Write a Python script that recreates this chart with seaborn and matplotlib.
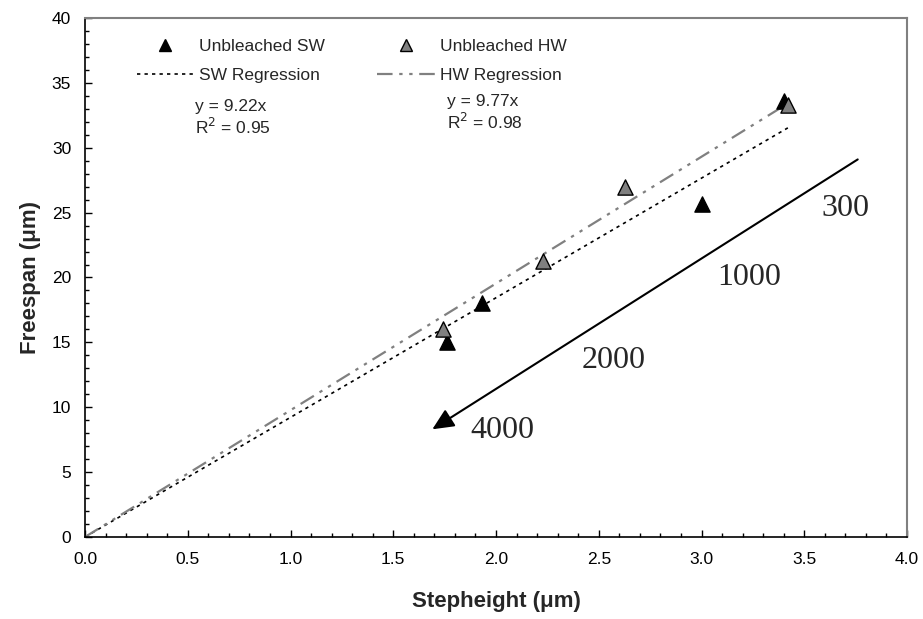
import numpy as np
import pandas as pd
import seaborn as sns
import matplotlib.pyplot as plt
from matplotlib.lines import Line2D
from matplotlib.ticker import MultipleLocator

# data
sw_x = [1.76, 1.93, 3.00, 3.40]
sw_y = [15.0, 18.0, 25.7, 33.6]
hw_x = [1.74, 2.23, 2.63, 3.42]
hw_y = [16.0, 21.3, 27.0, 33.3]
sw_slope = 9.22
hw_slope = 9.77
fit_x = [0.0, 3.42]
arrow_start = (3.76, 29.1)
arrow_end = (1.69, 8.3)
speed_labels = ["300", "1000", "2000", "4000"]
speed_pos = [(3.70, 25.3), (3.23, 20.0), (2.57, 13.6), (2.03, 8.2)]

df_pts = pd.DataFrame({
    "x": sw_x + hw_x,
    "y": sw_y + hw_y,
    "series": ["Unbleached SW"] * len(sw_x) + ["Unbleached HW"] * len(hw_x),
})
df_fit = pd.DataFrame({
    "x": fit_x + fit_x,
    "y": [sw_slope * v for v in fit_x] + [hw_slope * v for v in fit_x],
    "series": ["SW Regression"] * 2 + ["HW Regression"] * 2,
})

sns.set_style("white")
plt.rcParams["font.family"] = ["Liberation Sans", "DejaVu Sans"]

sw_ls = (0, (2, 2.5))
hw_ls = (0, (7, 3, 1.5, 3, 1.5, 3))

fig = plt.figure(figsize=(9.23, 6.19), dpi=100)
ax = fig.add_axes([0.0921, 0.1325, 0.8906, 0.8384])

# regression lines
sns.lineplot(data=df_fit[df_fit.series == "SW Regression"], x="x", y="y", ax=ax,
             color="black", lw=1.2, linestyle=sw_ls, legend=False)
sns.lineplot(data=df_fit[df_fit.series == "HW Regression"], x="x", y="y", ax=ax,
             color="#808080", lw=1.6, linestyle=hw_ls, legend=False)

# points
sns.scatterplot(data=df_pts[df_pts.series == "Unbleached SW"], x="x", y="y", ax=ax,
                marker="^", s=120, color="black", edgecolor="black", linewidth=1, zorder=3, legend=False)
sns.scatterplot(data=df_pts[df_pts.series == "Unbleached HW"], x="x", y="y", ax=ax,
                marker="^", s=120, color="#808080", edgecolor="black", linewidth=1, zorder=4, legend=False)

# arrow
ax.annotate("", xy=arrow_end, xytext=arrow_start,
            arrowprops=dict(arrowstyle="-|>,head_length=1.3,head_width=0.6", color="black",
                            lw=1.5, shrinkA=0, shrinkB=0))
for lab, (px, py) in zip(speed_labels, speed_pos):
    ax.text(px, py, lab, fontsize=23, family="Liberation Serif", ha="center", va="center")

ax.text(0.537, 32.3, "y = 9.22x\nR$^2$ = 0.95", fontsize=12.5, ha="left", va="center", linespacing=1.15)
ax.text(1.762, 32.7, "y = 9.77x\nR$^2$ = 0.98", fontsize=12.5, ha="left", va="center", linespacing=1.15)

ax.set_xlim(0, 4)
ax.set_ylim(0, 40)
ax.xaxis.set_major_locator(MultipleLocator(0.5))
ax.xaxis.set_minor_locator(MultipleLocator(0.1))
ax.yaxis.set_major_locator(MultipleLocator(5))
ax.yaxis.set_minor_locator(MultipleLocator(1))
ax.xaxis.set_major_formatter(plt.FuncFormatter(lambda v, p: f"{v:.1f}"))
ax.tick_params(which="both", direction="in", bottom=True, left=True, labelsize=12.5, colors="black")
ax.tick_params(which="major", length=5, width=1)
ax.tick_params(which="minor", length=3, width=1)
ax.tick_params(axis="x", pad=11)
ax.tick_params(axis="y", pad=10)

for s in ["left", "bottom"]:
    ax.spines[s].set_color("black")
    ax.spines[s].set_linewidth(1.2)
for s in ["top", "right"]:
    ax.spines[s].set_color("#808080")
    ax.spines[s].set_linewidth(1.5)

ax.set_xlabel("Stepheight (\u03bcm)", fontsize=16, fontweight="bold", labelpad=17)
ax.set_ylabel("Freespan (\u03bcm)", fontsize=16, fontweight="bold", labelpad=8)

handles = [
    Line2D([], [], marker="^", color="black", linestyle="none", markersize=8.5),
    Line2D([], [], color="black", lw=1.2, linestyle=sw_ls),
    Line2D([], [], marker="^", color="#808080", markeredgecolor="black", linestyle="none", markersize=8.5),
    Line2D([], [], color="#808080", lw=1.6, linestyle=hw_ls),
]
labels = ["Unbleached SW", "SW Regression", "Unbleached HW", "HW Regression"]
ax.legend(handles, labels, ncol=2, frameon=False, fontsize=12.5, loc="upper left",
          bbox_to_anchor=(0.063, 0.96), borderaxespad=0, borderpad=0,
          handlelength=3.3, columnspacing=3.0, handletextpad=0.3, labelspacing=0.8)

fig.savefig("out.png", dpi=100)
